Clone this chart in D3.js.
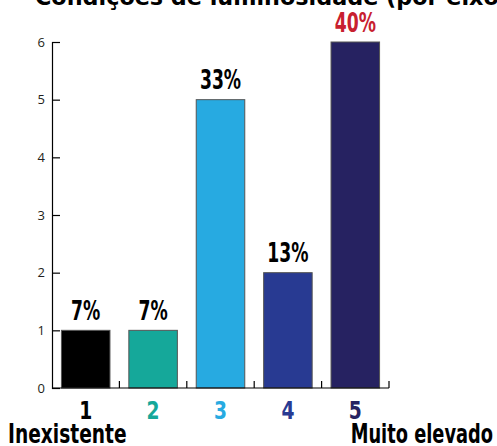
<!DOCTYPE html>
<html>
<head>
<meta charset="utf-8">
<script src="https://cdn.jsdelivr.net/npm/d3@7"></script>
<style>
  body { margin: 0; background: #fff; }
  svg { display: block; }
  .heavy { font-family: "DejaVu Sans", sans-serif; font-weight: bold; }
</style>
</head>
<body>
<svg id="chart" width="497" height="446"></svg>
<script>
// Luminosity ratings, one bar per level
const categories = ["1", "2", "3", "4", "5"];
const counts = [1, 1, 5, 2, 6];
const barColors = ["#000000", "#15a89a", "#27aae1", "#283a92", "#262261"];
const labelColors = ["#000000", "#15a89a", "#27aae1", "#283a92", "#262261"];
const yTicks = [0, 1, 2, 3, 4, 5, 6];
const title = "Condições de luminosidade (por eixo)";
const lowLabel = "Inexistente";
const highLabel = "Muito elevado";

const total = d3.sum(counts);
const pct = counts.map(c => Math.round(c / total * 100));
const maxIdx = counts.indexOf(d3.max(counts));

const svg = d3.select("#chart");
const plotLeft = 52, plotRight = 389, plotTop = 42, plotBottom = 388;
const squeeze = 0.7; // horizontal compression for the condensed display lettering

const x = d3.scaleBand().domain(categories).range([plotLeft, plotRight]).paddingInner(0.28).paddingOuter(0.14);
const y = d3.scaleLinear().domain([0, 6]).range([plotBottom, plotTop]);

// condensed heavy text anchored at (px, py)
function heavyText(parent, px, py, str, size, fill, anchor, sx) {
  const g = parent.append("g").attr("transform", `translate(${px},${py}) scale(${sx || squeeze},1)`);
  g.append("text")
    .attr("class", "heavy")
    .attr("text-anchor", anchor || "middle")
    .style("font-size", size + "px")
    .attr("fill", fill)
    .text(str);
  return g;
}

// title, partly above the frame
svg.append("text")
  .attr("x", 35).attr("y", 4.5)
  .attr("text-anchor", "start")
  .style("font-family", "DejaVu Sans")
  .style("font-weight", "bold")
  .style("font-size", "22.3px")
  .attr("fill", "#000")
  .text(title);

// bars
svg.selectAll("rect.bar").data(counts).join("rect")
  .attr("class", "bar")
  .attr("x", (d, i) => x(categories[i]))
  .attr("width", x.bandwidth())
  .attr("y", d => y(d))
  .attr("height", d => y(0) - y(d))
  .attr("fill", (d, i) => barColors[i])
  .attr("stroke", "#555")
  .attr("stroke-width", 1);

// y axis with inward ticks
const yAxis = svg.append("g")
  .attr("transform", `translate(${plotLeft},0)`)
  .call(d3.axisRight(y).tickValues(yTicks).tickSize(8).tickFormat(""));
yAxis.select(".domain").attr("stroke", "#000").attr("stroke-width", 1.2);
yAxis.selectAll(".tick line").attr("stroke", "#000").attr("stroke-width", 1.2);

svg.selectAll("text.ytick").data(yTicks).join("text")
  .attr("class", "ytick")
  .attr("x", 45).attr("y", d => y(d) + 4.5)
  .attr("text-anchor", "end")
  .style("font-family", "Open Sans, sans-serif")
  .style("font-size", "13px")
  .attr("fill", "#231f20")
  .text(d => d);

// x axis: baseline and band separators
const xb = svg.append("g");
xb.append("line")
  .attr("x1", plotLeft).attr("x2", plotRight)
  .attr("y1", y(0)).attr("y2", y(0))
  .attr("stroke", "#000").attr("stroke-width", 1.2);
const step = x.step();
xb.selectAll("line.sep").data(categories).join("line")
  .attr("class", "sep")
  .attr("x1", (c, i) => plotLeft + step * (i + 1)).attr("x2", (c, i) => plotLeft + step * (i + 1))
  .attr("y1", y(0)).attr("y2", y(0) - 7)
  .attr("stroke", "#000").attr("stroke-width", 1.2);

// value labels above bars
pct.forEach((p, i) => {
  heavyText(svg, x(categories[i]) + x.bandwidth() / 2, y(counts[i]) - 10.5,
    p + "%", 26.5, i === maxIdx ? "#c8202f" : "#000", "middle", 0.65);
});

// category labels under the axis
categories.forEach((c, i) => {
  heavyText(svg, x(c) + x.bandwidth() / 2, 419, c, 24, labelColors[i], "middle", 0.78);
});

// scale end descriptions
heavyText(svg, 8, 443, lowLabel, 27, "#000", "start", 0.69);
heavyText(svg, 493, 443, highLabel, 27, "#000", "end", 0.66);
</script>
</body>
</html>
